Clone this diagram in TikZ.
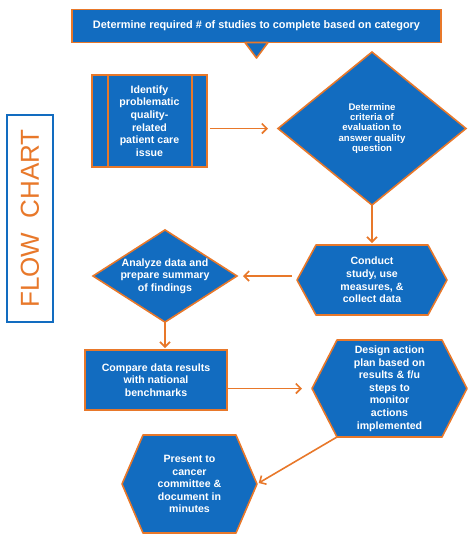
\documentclass[tikz,border=0pt]{standalone}
\usepackage{fontspec}
\setmainfont{Liberation Sans}
\usetikzlibrary{shapes.geometric,arrows.meta,backgrounds}

\definecolor{chartblue}{RGB}{18,108,192}
\definecolor{chartorange}{RGB}{232,120,42}

\tikzset{
  stepshape/.style={draw=chartorange, line width=1.6pt, fill=chartblue, text=white,
    font=\bfseries\fontsize{10.6}{12.6}\selectfont, align=center, inner sep=0pt, outer sep=0pt},
  procbox/.style={stepshape, rectangle},
  decision/.style={stepshape, diamond},
  hexbox/.style={stepshape, rectangle, draw=none, fill=none},
  hexline/.style={draw=chartorange, line width=1.6pt, fill=chartblue, line join=round},
  flow/.style={->, draw=chartorange, line width=1.6pt}
}

% six-sided outline round a named node, #2 = cut at the pointed ends
\newcommand{\hexoutline}[2]{%
  \begin{scope}[on background layer]
    \draw[hexline] (#1.west) -- ([xshift=#2]#1.north west) -- ([xshift=-#2]#1.north east)
      -- (#1.east) -- ([xshift=-#2]#1.south east) -- ([xshift=#2]#1.south west) -- cycle;
  \end{scope}}

\begin{document}
\begin{tikzpicture}[x=1pt, y=-1pt, >={Straight Barb[length=5pt,width=10pt]}]
\useasboundingbox (0,0) rectangle (474,550);

% title bar with its pointer
\node[procbox, minimum width=369pt, minimum height=33pt,
  font=\bfseries\fontsize{10.9}{13}\selectfont] (top) at (256.5,26)
  {Determine required \# of studies to complete based on category};
\draw[hexline] ([xshift=-11.5pt]top.south) -- ([xshift=11.5pt]top.south) -- ([yshift=-15.5pt]top.south) -- cycle;

% side label
\node[draw=chartblue, line width=1.6pt, fill=white, text=chartorange, rotate=90,
  minimum width=207pt, minimum height=46pt, inner sep=0pt,
  font=\fontsize{26}{26}\selectfont] (label) at (30,218.5) {FLOW\ \ CHART};

% steps
\node[procbox, minimum width=115pt, minimum height=92pt] (issue) at (149.5,121)
  {Identify\\problematic\\quality-\\related\\patient care\\issue};
\draw[chartorange, line width=1.2pt] ([xshift=16pt]issue.north west) -- ([xshift=16pt]issue.south west);
\draw[chartorange, line width=1.2pt] ([xshift=-15pt]issue.north east) -- ([xshift=-15pt]issue.south east);

\node[decision, minimum width=188pt, minimum height=153pt, shape aspect=1.23,
  font=\bfseries\fontsize{9.6}{10.4}\selectfont] (crit) at (372,128.5)
  {Determine\\criteria of\\evaluation to\\answer quality\\question};

\node[hexbox, minimum width=150pt, minimum height=70pt] (study) at (372,280)
  {Conduct\\study, use\\measures, \&\\collect data};
\hexoutline{study}{19pt}

\node[decision, minimum width=144pt, minimum height=92pt, shape aspect=1.56] (analyze) at (165,276)
  {Analyze data and\\prepare summary\\of findings};

\node[procbox, minimum width=142pt, minimum height=60pt] (compare) at (156,380)
  {Compare data results\\with national\\benchmarks};

\node[hexbox, minimum width=155pt, minimum height=97pt] (plan) at (389.5,388.5)
  {Design action\\plan based on\\results \& f/u\\steps to\\monitor\\actions\\implemented};
\hexoutline{plan}{25pt}

\node[hexbox, minimum width=135pt, minimum height=98pt] (present) at (189.5,484)
  {Present to\\cancer\\committee \&\\document in\\minutes};
\hexoutline{present}{21pt}

% connectors
\draw[flow, shorten <=3pt, shorten >=10pt] (issue.east |- crit.west) -- (crit.west);
\draw[flow, shorten >=2pt] (crit.south) -- (study.north);
\draw[flow, shorten <=5pt, shorten >=6pt] (study.west |- analyze.east) -- (analyze.east);
\draw[flow, shorten >=2pt] (analyze.south) -- (analyze.south |- compare.north);
\draw[flow, shorten >=10pt] (compare.east |- plan.west) -- (plan.west);
\draw[flow, shorten >=2pt] ([xshift=25pt]plan.south west) -- (present.east);
\end{tikzpicture}
\end{document}
